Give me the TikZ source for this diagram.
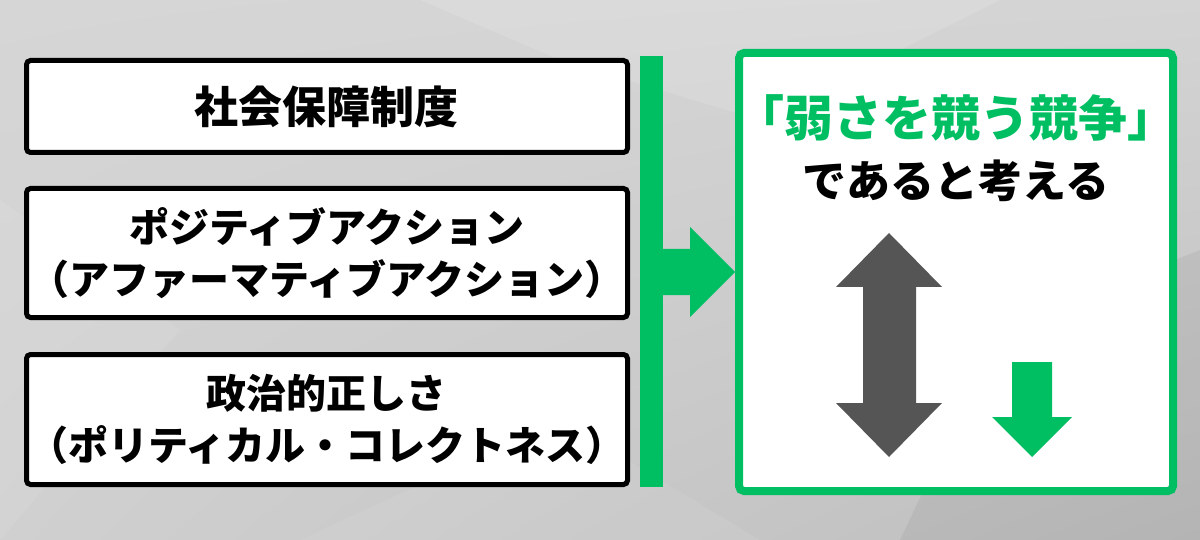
\documentclass[tikz,border=0pt]{standalone}
\usepackage{fontspec}
\usetikzlibrary{shadings}
\setmainfont{Noto Sans CJK JP}
\definecolor{grn}{HTML}{00BF63}
\definecolor{dgray}{HTML}{555555}
\definecolor{bgul}{HTML}{D6D6D6}
\definecolor{bgur}{HTML}{D4D4D4}
\definecolor{bgll}{HTML}{D0D0D0}
\definecolor{bglr}{HTML}{BEBEBE}
\tikzset{
  lbox/.style={draw=black, line width=5pt, fill=white, rounded corners=4pt,
    text width=601pt, inner sep=0pt, align=center, font=\bfseries\fontsize{40}{52}\selectfont},
  rbox/.style={draw=grn, line width=8pt, fill=white, rounded corners=5pt,
    minimum width=434pt, minimum height=438pt, inner sep=0pt},
  gtxt/.style={text=grn, font=\bfseries\fontsize{49}{56}\selectfont},
  btxt/.style={text=black, font=\bfseries\fontsize{44}{52}\selectfont},
}
\begin{document}
\begin{tikzpicture}[x=1pt,y=-1pt]
\useasboundingbox (0,0) rectangle (1200,540);
% background
\shade[upper left=bgul, upper right=bgur, lower left=bgll, lower right=bglr]
  (0,0) rectangle (1200,540);
\fill[white, opacity=0.12] (420,0) -- (1000,0) -- (760,120) -- (560,60) -- cycle;
\fill[white, opacity=0.08] (0,200) -- (180,330) -- (0,540) -- cycle;
\fill[black, opacity=0.05] (1000,330) -- (1200,250) -- (1200,540) -- (900,540) -- cycle;
\fill[white, opacity=0.07] (300,540) -- (560,420) -- (760,540) -- cycle;

% left boxes
\node[lbox, minimum height=92pt] (b1) at (327,106.5) {\fontsize{44}{52}\selectfont 社会保障制度};
\node[lbox, minimum height=129pt] (b2) at (327,253) {ポジティブアクション\\（アファーマティブアクション）};
\node[lbox, minimum height=130pt] (b3) at (327,419.5) {政治的正しさ\\（ポリティカル・コレクトネス）};

% green bar
\node[fill=grn, minimum width=23pt, minimum height=431pt, inner sep=0pt, outer sep=0pt] (bar) at (651.5,271.5) {};

% right box
\node[rbox] (r) at (956,272) {};
\node[gtxt] (t1) at (956,118) {「弱さを競う競争」};
\node[btxt] (t2) at (956,181) {であると考える};

% block arrow from bar to right box
\fill[grn] (bar.east |- 0,249) -- (690,249) -- (690,227) -- (r.west) -- (690,317) -- (690,295) -- (bar.east |- 0,295) -- cycle;

% gray double arrow
\fill[dgray] (889,233) -- (942,287) -- (916,287) -- (916,403) -- (942,403) -- (889,457)
  -- (836,403) -- (863,403) -- (863,287) -- (836,287) -- cycle;
% green down arrow
\fill[grn] (1012,362) -- (1052,362) -- (1052,417) -- (1072,417) -- (1032,457) -- (992,417) -- (1012,417) -- cycle;
\end{tikzpicture}
\end{document}
